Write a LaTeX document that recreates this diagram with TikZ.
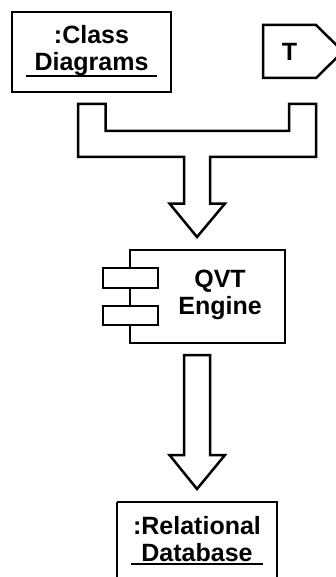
\documentclass[tikz,border=0pt]{standalone}
\usepackage{fontspec}
\setmainfont{Liberation Sans}
\begin{document}
\begin{tikzpicture}[x=1pt,y=-1pt,
  line width=2.5pt, line join=miter,
  lbl/.style={font=\fontsize{25}{27}\selectfont\bfseries, align=center, inner sep=0pt},
  box/.style={draw, fill=white},
  ul/.style={line width=2.5pt}]
\useasboundingbox (0,0) rectangle (336,577);
% Class Diagrams object
\draw[box] (12,12) rectangle (171,92);
\node[lbl] (cd) at (91.5,51) {:Class\\Diagrams};
\draw[ul] (26,76) -- (157,76);
% template T
\draw[box] (263,25) -- (316,25) -- (343,51.5) -- (316,78) -- (263,78) -- cycle;
\node[lbl] (t) at (289.5,51.5) {T};
% merging block arrow
\draw (78,104) -- (105.7,104) -- (105.7,131) -- (289,131) -- (289,104) -- (316,104)
  -- (316,157) -- (210,157) -- (210,203.5) -- (225,203.5) -- (197,237) -- (169.5,203.5)
  -- (184,203.5) -- (184,157) -- (78,157) -- cycle;
% component
\draw[box] (130,250) rectangle (285,343);
\draw[box] (103,268) rectangle (158,288);
\draw[box] (103,306) rectangle (158,325);
\node[lbl] (qvt) at (220,294.5) {QVT\\Engine};
% lower block arrow
\draw (184,355) -- (210,355) -- (210,455) -- (225,455) -- (197,489) -- (169.5,455)
  -- (184,455) -- cycle;
% relational database
\draw[box] (117,502) -- (277,502) -- (277,590) (117,590) -- (117,502);
\node[lbl] (rd) at (197,539.5) {:Relational\\Database};
\draw[ul] (131,564) -- (263,564);
\end{tikzpicture}
\end{document}
